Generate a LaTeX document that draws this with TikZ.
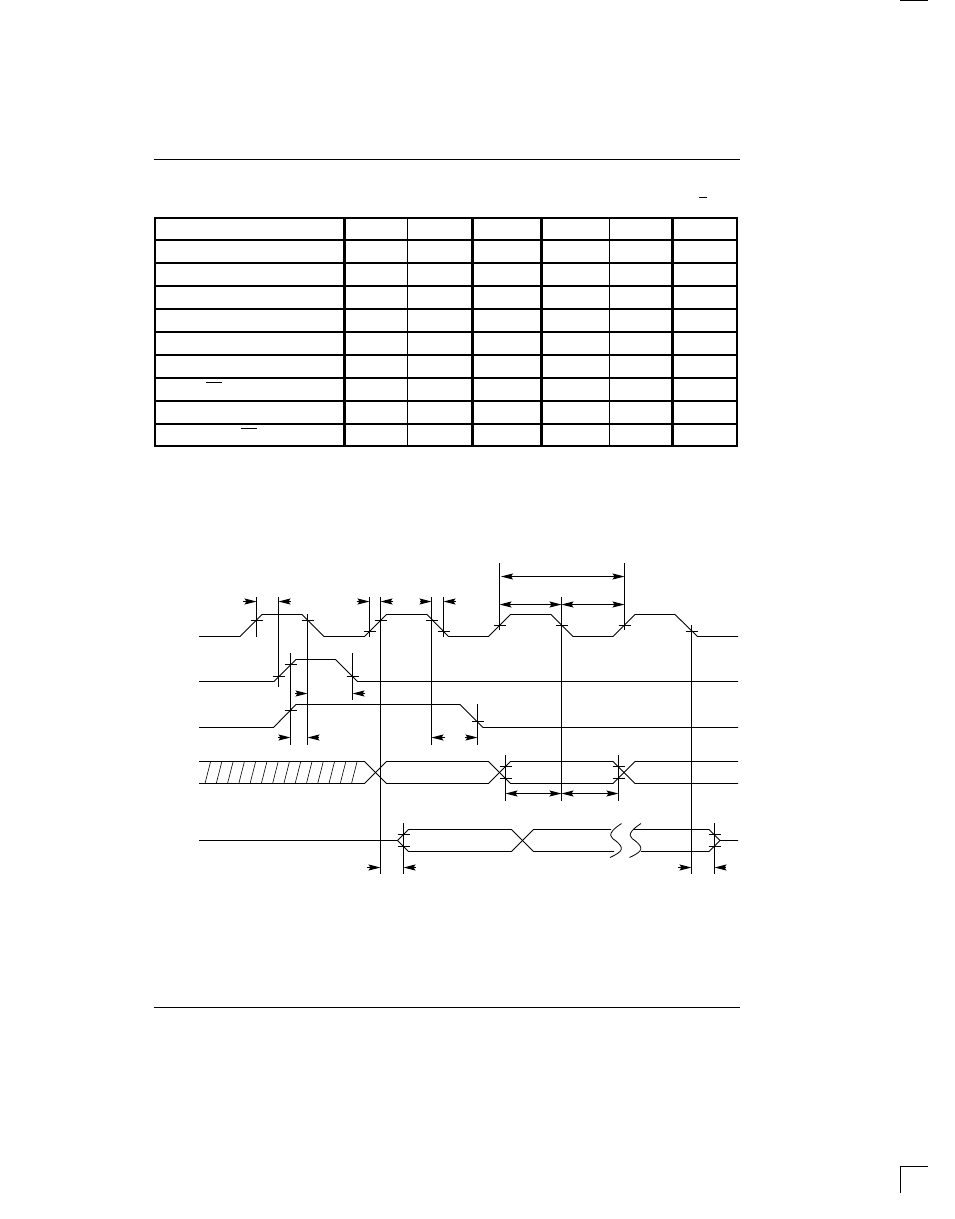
\documentclass[tikz,border=0pt]{standalone}
\usetikzlibrary{arrows.meta}
\tikzset{
	wave/.style={line width=0.9pt, line join=miter},
	guide/.style={line width=1pt},
	rowline/.style={line width=2pt},
	dimarrow/.style={line width=1pt, -{Stealth[length=12pt,width=6pt,inset=2pt]}},
	dimboth/.style={line width=1pt, {Stealth[length=12pt,width=6pt,inset=2pt]}-{Stealth[length=12pt,width=6pt,inset=2pt]}}
}
\def\crosstick(#1,#2){\draw[guide] (#1-6,#2) -- (#1+6,#2);}

\begin{document}
\begin{tikzpicture}[x=1pt, y=-1pt]
			%%%%% START %%%%%
			\useasboundingbox (0, 0) rectangle (954, 1219);
			\fill[white] (0, 0) rectangle (954, 1219);

			% page marks and rules
			\draw[line width=1.5pt] (900, 0.5) -- (928, 0.5);
			\draw[line width=1.3pt] (900.5, 1193) -- (900.5, 1166.5) -- (928, 1166.5);
			\draw[line width=1.1pt] (154, 159.5) -- (740, 159.5);
			\draw[line width=1.1pt] (154, 1007.5) -- (740, 1007.5);

			% table
			\draw[line width=2.2pt] (155, 218) rectangle (737, 446);
			\foreach \rowy in {240, 263, 286, 309, 332, 355, 378, 401, 424}
				\draw[rowline] (155, \rowy) -- (737, \rowy);
			\foreach \colx in {344.5, 472.5, 541.5, 672.5}
				\draw[line width=2.2pt] (\colx, 218) -- (\colx, 446);
			\foreach \colx in {407.5, 609.5}
				\draw[line width=0.9pt] (\colx, 218) -- (\colx, 446);
			\draw[line width=1pt] (206, 382.5) -- (222, 382.5);
			\draw[line width=1pt] (241, 428.5) -- (257, 428.5);
			\draw[line width=1pt] (699, 197.5) -- (707, 197.5);

			% signal traces
			\draw[wave] (199, 636.5) -- (240, 636.5) -- (262, 614.5) -- (302, 614.5) -- (324, 636.5) -- (364.5, 636.5)
				-- (386.5, 614.5) -- (427, 614.5) -- (448.5, 636.5) -- (488.5, 636.5) -- (510.5, 614.5) -- (551, 614.5)
				-- (573, 636.5) -- (613, 636.5) -- (635, 614.5) -- (675, 614.5) -- (697.5, 636.5) -- (738, 636.5);
			\draw[wave] (199, 681.5) -- (274, 681.5) -- (296, 659.5) -- (335.5, 659.5) -- (357.5, 681.5) -- (738, 681.5);
			\draw[wave] (199, 727.5) -- (273.5, 727.5) -- (296, 704.5) -- (460, 704.5) -- (483, 727.5) -- (738, 727.5);

			% bus
			\draw[wave] (199, 761.5) -- (364.5, 761.5) -- (386.5, 783.5) -- (488.5, 783.5) -- (510.5, 761.5) -- (613, 761.5)
				-- (635, 783.5) -- (738, 783.5);
			\draw[wave] (199, 783.5) -- (364.5, 783.5) -- (386.5, 761.5) -- (488.5, 761.5) -- (510.5, 783.5) -- (613, 783.5)
				-- (635, 761.5) -- (738, 761.5);
			\foreach \n in {0,...,13}
				\draw[line width=0.6pt] (205+11.27*\n, 783.5) -- (210.6+11.27*\n, 761.5);

			% tristate trace with break
			\draw[wave] (199, 840.5) -- (397.5, 840.5) -- (408.5, 829.5) -- (511.5, 829.5) -- (533.5, 851.5) -- (614, 851.5);
			\draw[wave] (397.5, 840.5) -- (408.5, 851.5) -- (511.5, 851.5) -- (533.5, 829.5) -- (611, 829.5);
			\draw[wave] (633, 829.5) -- (709, 829.5) -- (720, 840.5) -- (738, 840.5);
			\draw[wave] (641, 851.5) -- (709, 851.5) -- (720, 840.5);
			\draw[line width=0.8pt] (621.5, 823.5) .. controls (604, 835) and (612, 838) .. (616, 841) .. controls (624, 848) and (624, 851) .. (610, 857.5);
			\draw[line width=0.8pt] (641, 823.5) .. controls (623.5, 835) and (631.5, 838) .. (635.5, 841) .. controls (643.5, 848) and (643.5, 851) .. (629.5, 857.5);

			% guide lines
			\draw[guide] (256.5, 597) -- (256.5, 637);
			\draw[guide] (278.5, 597) -- (278.5, 687);
			\draw[guide] (307.5, 614) -- (307.5, 745);
			\draw[guide] (290.5, 653) -- (290.5, 745);
			\draw[guide] (352.5, 653) -- (352.5, 700);
			\draw[guide] (369.5, 597) -- (369.5, 637);
			\draw[guide] (380.5, 597) -- (380.5, 874);
			\draw[guide] (431.5, 597) -- (431.5, 745);
			\draw[guide] (443.5, 597) -- (443.5, 637);
			\draw[guide] (477.5, 704) -- (477.5, 745);
			\draw[guide] (403.5, 823) -- (403.5, 874);
			\draw[guide] (499.5, 563) -- (499.5, 630);
			\draw[guide] (624.5, 563) -- (624.5, 630);
			\draw[guide] (561.5, 597) -- (561.5, 801);
			\draw[guide] (691.5, 625) -- (691.5, 874);
			\draw[guide] (505.5, 755) -- (505.5, 801);
			\draw[guide] (618.5, 755) -- (618.5, 801);
			\draw[guide] (714.5, 823) -- (714.5, 874);

			% crossing ticks
			\crosstick(256.5,620.5)
			\crosstick(278.5,676.5)
			\crosstick(307.5,620.5)
			\crosstick(290.5,664.5)
			\crosstick(290.5,710.5)
			\crosstick(352.5,676.5)
			\crosstick(369.5,631.5)
			\crosstick(380.5,620.5)
			\crosstick(431.5,620.5)
			\crosstick(443.5,631.5)
			\crosstick(477.5,721.5)
			\crosstick(403.5,834.5)
			\crosstick(403.5,846.5)
			\crosstick(499.5,625.5)
			\crosstick(624.5,625.5)
			\crosstick(561.5,625.5)
			\crosstick(691.5,631.5)
			\crosstick(505.5,766.5)
			\crosstick(505.5,778.5)
			\crosstick(618.5,766.5)
			\crosstick(618.5,778.5)
			\crosstick(714.5,834.5)
			\crosstick(714.5,846.5)

			% timing arrows
			\draw[dimarrow] (243, 601.5) -- (256.5, 601.5);
			\draw[dimarrow] (290.5, 601.5) -- (278.5, 601.5);
			\draw[dimarrow] (356.5, 601.5) -- (369.5, 601.5);
			\draw[dimarrow] (392.5, 601.5) -- (380.5, 601.5);
			\draw[dimarrow] (420, 601.5) -- (431.5, 601.5);
			\draw[dimarrow] (456, 601.5) -- (443.5, 601.5);
			\draw[dimarrow] (295, 693.5) -- (307.5, 693.5);
			\draw[dimarrow] (364.5, 693.5) -- (352.5, 693.5);
			\draw[dimarrow] (278, 737.5) -- (290.5, 737.5);
			\draw[dimarrow] (319, 737.5) -- (307.5, 737.5);
			\draw[dimarrow] (445, 737.5) -- (431.5, 737.5);
			\draw[dimarrow] (465, 737.5) -- (477.5, 737.5);
			\draw[dimarrow] (367, 867.5) -- (380.5, 867.5);
			\draw[dimarrow] (415.5, 867.5) -- (403.5, 867.5);
			\draw[dimarrow] (678, 867.5) -- (691.5, 867.5);
			\draw[dimarrow] (726, 867.5) -- (714.5, 867.5);

			\draw[dimboth] (501, 576.5) -- (624.5, 576.5);
			\draw[dimboth] (499.5, 604.5) -- (561.5, 604.5);
			\draw[dimboth] (561.5, 604.5) -- (624.5, 604.5);
			\draw[dimboth] (505.5, 793.5) -- (561.5, 793.5);
			\draw[dimboth] (561.5, 793.5) -- (618.5, 793.5);
			%%%%% END %%%%%
		\end{tikzpicture}
\end{document}
